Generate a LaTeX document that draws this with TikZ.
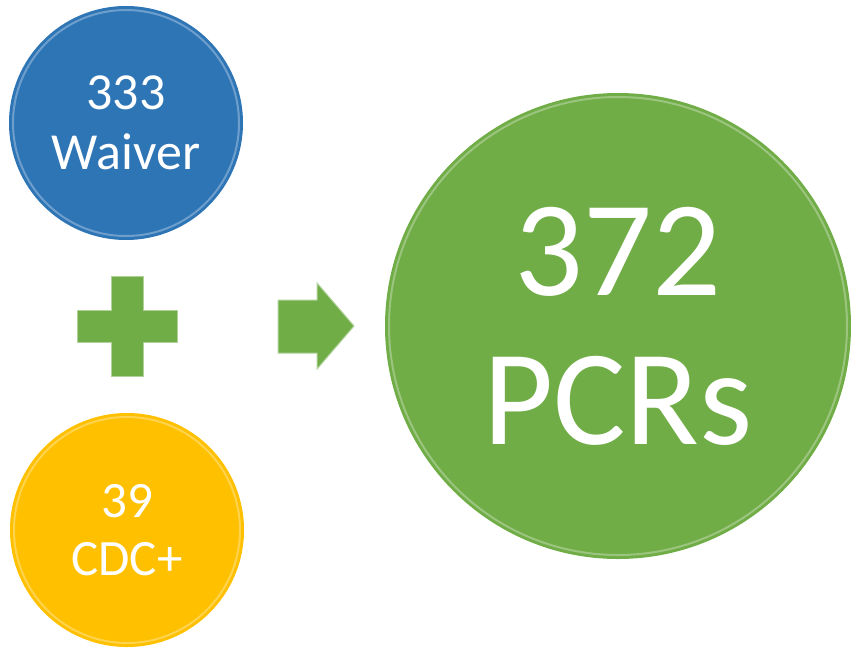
\documentclass[tikz,border=0pt]{standalone}
\usepackage{fontspec}
\setmainfont{Carlito}
\definecolor{waiverblue}{HTML}{2E75B6}
\definecolor{cdcyellow}{HTML}{FFC000}
\definecolor{pcrgreen}{HTML}{70AD47}
\tikzset{
  bubble/.style={circle, inner sep=0pt, text=white, align=center},
  gloss/.style={white, opacity=0.3, line width=2pt},
  bevel/.style={fill=pcrgreen, draw=pcrgreen!55!white, line width=1pt, line join=miter}
}
\begin{document}
\begin{tikzpicture}[x=1pt,y=-1pt]
\useasboundingbox (0,0) rectangle (851,648);
% the two inputs
\node[bubble, fill=waiverblue, minimum size=234pt, font=\fontsize{52}{60}\selectfont] (waiver) at (126,123) {333\\Waiver};
\draw[gloss] (waiver.center) circle[radius=113pt];
\node[bubble, fill=cdcyellow, minimum size=234pt, font=\fontsize{51}{58}\selectfont] (cdc) at (127,530) {39\\CDC+};
\draw[gloss] (cdc.center) circle[radius=113pt];
% the result
\node[bubble, fill=pcrgreen, minimum size=466pt, font=\fontsize{136}{149}\selectfont] (pcrs) at (618,326) {372\\PCRs};
\draw[gloss] (pcrs.center) circle[radius=229pt];
% plus sign and arrow
\coordinate (plus) at (127,326);
\draw[bevel] ([shift={(-16,-50)}]plus) -- ([shift={(16,-50)}]plus) -- ([shift={(16,-16)}]plus)
  -- ([shift={(50,-16)}]plus) -- ([shift={(50,16)}]plus) -- ([shift={(16,16)}]plus)
  -- ([shift={(16,50)}]plus) -- ([shift={(-16,50)}]plus) -- ([shift={(-16,16)}]plus)
  -- ([shift={(-50,16)}]plus) -- ([shift={(-50,-16)}]plus) -- ([shift={(-16,-16)}]plus) -- cycle;
\draw[bevel] (278,300) -- (317,300) -- (317,283) -- (354,326) -- (317,369) -- (317,353) -- (278,353) -- cycle;
\end{tikzpicture}
\end{document}
